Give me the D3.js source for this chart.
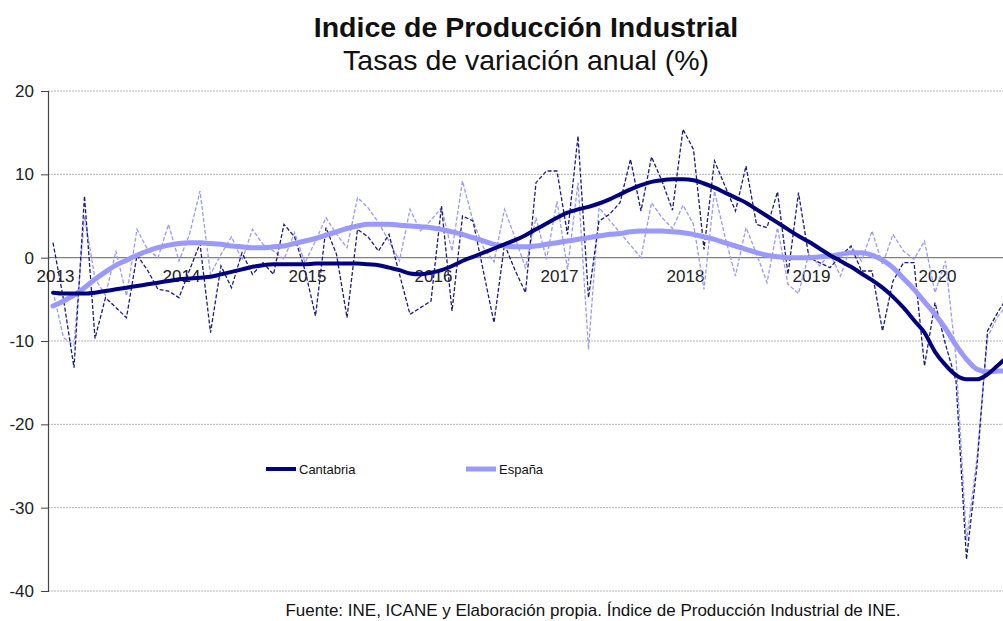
<!DOCTYPE html>
<html>
<head>
<meta charset="utf-8">
<script src="https://cdn.jsdelivr.net/npm/d3@7"></script>
<style>
  body { margin: 0; background: #fff; }
  svg { display: block; font-family: "Liberation Sans", Arial, sans-serif; }
</style>
</head>
<body>
<div id="chart"></div>
<script>
const width = 1003,
    height = 621

// monthly data, Jan 2013 .. Aug 2020
const years = ['2013', '2014', '2015', '2016', '2017', '2018', '2019', '2020']
const yTicks = [20, 10, 0, -10, -20, -30, -40]
const seriesNames = ['Cantabria', 'España']

const cantabria = [
  1.8, -5.0, -13.2, 7.4, -9.7, -4.8, -6.0, -7.2, 0.3, -1.5, -3.8, -4.0,
  -4.8, -1.5, 1.7, -9.0, -1.0, -3.6, 0.6, -2.0, -0.6, -2.0, 4.0, 2.5,
  -1.5, -7.0, 3.6, 0.4, -7.2, 3.4, 2.5, 0.8, 2.8, -2.0, -6.8, -6.0,
  -5.2, 6.2, -6.4, 5.0, 4.4, -1.7, -7.8, 1.6, -1.5, -4.2, 9.0, 10.4,
  10.4, 2.8, 14.6, -4.8, 4.4, 5.2, 6.6, 11.8, 5.6, 12.1, 9.2, 5.7,
  15.4, 13.0, 1.0, 11.6, 8.6, 5.6, 11.0, 4.0, 3.6, 7.9, -2.0, 7.8,
  0.0, -0.6, -1.2, 0.2, 1.4, -1.6, -1.6, -8.8, -2.8, -0.6, -0.6, -13.0,
  -5.4, -10.4, -14.8, -36.2, -25.0, -8.8, -6.5, -4.5
]

const espana = [
  -4.0, -9.6, -10.5, 5.0, -2.5, -4.5, 0.8, -4.6, 3.4, 1.0, 0.0, 4.0,
  -0.4, 2.8, 8.0, -2.0, 0.4, 2.5, -0.3, 3.4, 1.6, 0.8, -0.2, 3.0,
  -0.6, 2.0, 4.8, 2.8, 1.2, 7.2, 6.0, 4.2, 2.0, -0.4, 5.8, 3.2,
  4.5, 6.0, 0.8, 9.2, 4.4, 1.2, -0.5, 5.8, 2.4, -1.2, 4.8, -0.2,
  6.8, -1.4, 9.0, -11.0, 6.0, 4.5, 3.0, 1.5, 0.0, 6.6, 4.8, 3.5,
  6.3, 4.0, -3.8, 8.0, 2.5, -2.2, 3.6, 0.5, -3.0, 3.6, -3.2, -4.3,
  0.5, -1.0, 0.5, -2.2, 1.4, -0.4, 3.2, -0.8, 2.8, 0.8, -0.2, 2.0,
  -4.2, -0.4, -12.0, -34.0, -24.0, -9.5, -7.0, -5.5
]

const cantabriaTrend = [
  -4.2, -4.3, -4.3, -4.3, -4.2, -4.0, -3.8, -3.6, -3.4, -3.2, -3.0, -2.8,
  -2.6, -2.5, -2.4, -2.3, -2.0, -1.7, -1.4, -1.1, -0.9, -0.8, -0.8, -0.8,
  -0.8, -0.7, -0.7, -0.7, -0.7, -0.7, -0.8, -0.9, -1.2, -1.5, -1.9, -2.0,
  -1.8, -1.5, -1.0, -0.4, 0.1, 0.6, 1.1, 1.6, 2.1, 2.7, 3.4, 4.1,
  4.8, 5.4, 5.8, 6.1, 6.5, 7.0, 7.6, 8.2, 8.7, 9.1, 9.3, 9.4,
  9.4, 9.3, 8.9, 8.4, 7.8, 7.2, 6.6, 5.8, 5.0, 4.2, 3.4, 2.6,
  1.9, 1.1, 0.3, -0.4, -1.1, -1.9, -2.7, -3.6, -4.7, -6.0, -7.5, -9.0,
  -11.3, -12.9, -14.1, -14.6, -14.6, -14.0, -12.9, -11.8
]

const espanaTrend = [
  -5.8, -5.2, -4.5, -3.6, -2.6, -1.7, -0.9, -0.3, 0.3, 0.8, 1.2, 1.5,
  1.7, 1.8, 1.8, 1.7, 1.6, 1.4, 1.3, 1.2, 1.2, 1.3, 1.4, 1.7,
  2.0, 2.3, 2.7, 3.1, 3.5, 3.8, 4.0, 4.0, 4.0, 3.9, 3.8, 3.7,
  3.6, 3.4, 3.1, 2.8, 2.4, 2.0, 1.6, 1.4, 1.3, 1.3, 1.4, 1.6,
  1.8, 2.0, 2.2, 2.4, 2.6, 2.8, 2.9, 3.1, 3.2, 3.2, 3.2, 3.1,
  3.0, 2.8, 2.5, 2.2, 1.8, 1.4, 1.0, 0.6, 0.3, 0.1, 0.0, 0.0,
  0.0, 0.1, 0.2, 0.4, 0.6, 0.6, 0.3, -0.3, -1.2, -2.5, -3.8, -5.3,
  -6.8, -8.5, -10.5, -12.2, -13.4, -13.7, -13.6, -13.6
]

const darkColor = '#000080'
const lightColor = '#9999ff'

const plotLeft = 48, plotRight = 1003

const svg = d3.select('#chart')
  .append('svg')
    .attr('width', width)
    .attr('height', height)
    .attr('viewBox', `0 0 ${width} ${height}`)

const x = d3.scaleLinear()
  .domain([0, cantabria.length - 1])
  .range([53, 53 + 10.5 * (cantabria.length - 1)])

const y = d3.scaleLinear()
  .domain([-40, 20])
  .range([591, 91])

// gridlines
svg.append('g')
  .selectAll('line')
  .data(yTicks.filter(d => d !== 0))
  .join('line')
  .attr('x1', plotLeft)
  .attr('x2', plotRight)
  .attr('y1', d => y(d))
  .attr('y2', d => y(d))
  .attr('stroke', '#b4b4b4')
  .attr('stroke-width', 1)
  .attr('stroke-dasharray', '2,1')

// zero line
svg.append('line')
  .attr('x1', plotLeft)
  .attr('x2', plotRight)
  .attr('y1', y(0))
  .attr('y2', y(0))
  .attr('stroke', '#808080')
  .attr('stroke-width', 1.2)

// y axis
const yAxis = svg.append('g')
  .attr('transform', `translate(${plotLeft},0)`)
  .call(d3.axisLeft(y).tickValues(yTicks).tickSize(7).tickPadding(7).tickFormat(d => String(d)))
yAxis.select('.domain').attr('stroke', '#444').attr('stroke-width', 1.2)
yAxis.selectAll('.tick line').attr('stroke', '#444')
yAxis.selectAll('text')
  .style('font-family', '"Liberation Sans", Arial, sans-serif')
  .style('font-size', '17px')
  .attr('fill', '#222')

// x axis labels sitting on the zero line
const xAxis = svg.append('g')
  .attr('transform', `translate(2,${y(0)})`)
  .call(d3.axisBottom(x)
    .tickValues(years.map((d, i) => i * 12))
    .tickFormat((d, i) => years[i])
    .tickSize(0)
    .tickPadding(12))
xAxis.select('.domain').remove()
xAxis.selectAll('text')
  .style('font-family', '"Liberation Sans", Arial, sans-serif')
  .style('font-size', '17px')
  .attr('fill', '#222')

const line = d3.line()
  .x((d, i) => x(i))
  .y(d => y(d))

const trend = d3.line()
  .x((d, i) => x(i))
  .y(d => y(d))
  .curve(d3.curveMonotoneX)

// monthly series (dashed)
svg.append('path')
  .datum(espana)
  .attr('d', line)
  .attr('fill', 'none')
  .attr('stroke', lightColor)
  .attr('stroke-width', 1.3)
  .attr('stroke-dasharray', '4,2')

svg.append('path')
  .datum(cantabria)
  .attr('d', line)
  .attr('fill', 'none')
  .attr('stroke', '#1a1a8a')
  .attr('stroke-width', 1.3)
  .attr('stroke-dasharray', '4,2')

// trend lines
svg.append('path')
  .datum(espanaTrend)
  .attr('d', trend)
  .attr('fill', 'none')
  .attr('stroke', lightColor)
  .attr('stroke-width', 5)
  .attr('stroke-linecap', 'round')

svg.append('path')
  .datum(cantabriaTrend)
  .attr('d', trend)
  .attr('fill', 'none')
  .attr('stroke', darkColor)
  .attr('stroke-width', 4)
  .attr('stroke-linecap', 'round')

// legend
const legend = svg.append('g')
  .selectAll('g')
  .data(seriesNames)
  .join('g')
  .attr('transform', (d, i) => `translate(${266 + i * 200},469)`)

legend.append('line')
  .attr('x1', 0)
  .attr('x2', 30)
  .attr('stroke', (d, i) => i === 0 ? darkColor : lightColor)
  .attr('stroke-width', (d, i) => i === 0 ? 4 : 5)

legend.append('text')
  .attr('x', 33)
  .attr('y', 4.5)
  .text(d => d)
  .style('font-size', '13px')
  .attr('fill', '#111')

// titles
svg.append('text')
  .attr('x', 526)
  .attr('y', 37)
  .attr('text-anchor', 'middle')
  .style('font-size', '28.5px')
  .style('font-weight', 'bold')
  .attr('fill', '#111')
  .text('Indice de Producción Industrial')

svg.append('text')
  .attr('x', 526)
  .attr('y', 70)
  .attr('text-anchor', 'middle')
  .style('font-size', '28.5px')
  .attr('fill', '#111')
  .text('Tasas de variación anual (%)')

svg.append('text')
  .attr('x', 593)
  .attr('y', 616)
  .attr('text-anchor', 'middle')
  .style('font-size', '17px')
  .attr('fill', '#111')
  .text('Fuente: INE, ICANE y Elaboración propia. Índice de Producción Industrial de INE.')
</script>
</body>
</html>
